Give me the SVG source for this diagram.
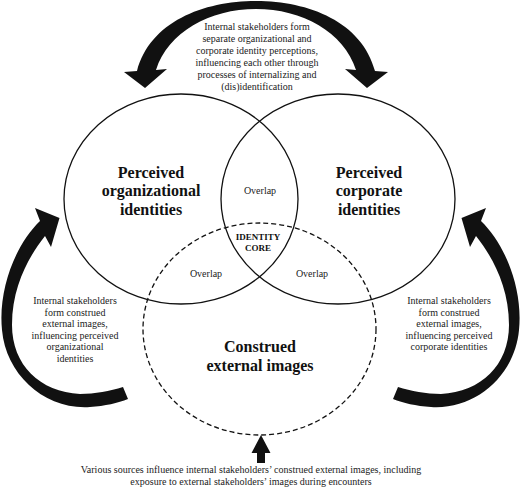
<svg xmlns="http://www.w3.org/2000/svg" width="520" height="489" viewBox="0 0 520 489">
<style>
.ring{fill:none;stroke:#111;stroke-width:1.3}
.dash{stroke-dasharray:5,3}
.big{font-family:"Liberation Serif","Times New Roman",serif;font-weight:bold;font-size:16px;fill:#111;text-anchor:middle}
.core{font-family:"Liberation Serif","Times New Roman",serif;font-weight:bold;font-size:9px;fill:#111;text-anchor:middle}
.small{font-family:"Liberation Serif","Times New Roman",serif;font-size:10px;fill:#222;text-anchor:middle}
.arrow{fill:#111;stroke:none}
</style>
<defs>
<path id="sideArrow" d="M128,399 C118,403 105,406 90,407 C45,410 6,375 2,330 C-2,290 15,245 40,221 L35,208 L59.5,218 L51,247 L45,236 C30,255 12,285 12,325 C12,365 40,392 80,394 C95,394 110,391 123,387 Z"/>
</defs>
<rect width="520" height="489" fill="#fff"/>

<g id="connectors">
  <path id="arrow-top" class="arrow" d="M137,71 C150,22 203,1 256,1 C309,1 362,22 375,71 L388,72 L367,88 L345,69 L356,70 C344,32 302,9 256,9 C210,9 168,32 156,70 L167,69 L145,88 L124,72 Z"/>
  <use id="arrow-left" class="arrow" href="#sideArrow"/>
  <use id="arrow-right" class="arrow" href="#sideArrow" transform="translate(521,0) scale(-1,1)"/>
  <path id="arrow-bottom" class="arrow" d="M261,435 L270.5,453 L265,453 L265,463 L257,463 L257,453 L251.5,453 Z"/>
</g>

<g id="node-organizational">
  <ellipse class="ring" cx="181" cy="199" rx="117" ry="105"/>
  <text class="big" x="151" y="177.5">Perceived</text>
  <text class="big" x="151" y="196">organizational</text>
  <text class="big" x="151" y="214.5">identities</text>
</g>

<g id="node-corporate">
  <ellipse class="ring" cx="338" cy="199" rx="117" ry="105"/>
  <text class="big" x="369" y="177.5">Perceived</text>
  <text class="big" x="369" y="196">corporate</text>
  <text class="big" x="369" y="214.5">identities</text>
</g>

<g id="node-construed">
  <ellipse class="ring dash" cx="259.5" cy="329" rx="116.5" ry="106"/>
  <text class="big" x="260" y="352">Construed</text>
  <text class="big" x="260" y="370.5">external images</text>
</g>

<g id="overlaps">
  <text class="small" x="260" y="194">Overlap</text>
  <text class="small" x="206" y="277">Overlap</text>
  <text class="small" x="312" y="277">Overlap</text>
  <text class="core" x="258" y="240">IDENTITY</text>
  <text class="core" x="258" y="250.5">CORE</text>
</g>

<g id="label-top">
  <text class="small" x="257" y="30">Internal stakeholders form</text>
  <text class="small" x="257" y="42">separate organizational and</text>
  <text class="small" x="257" y="54">corporate identity perceptions,</text>
  <text class="small" x="257" y="66">influencing each other through</text>
  <text class="small" x="257" y="78">processes of internalizing and</text>
  <text class="small" x="257" y="90">(dis)identification</text>
</g>

<g id="label-left">
  <text class="small" x="75" y="304">Internal stakeholders</text>
  <text class="small" x="75" y="315.5">form construed</text>
  <text class="small" x="75" y="327">external images,</text>
  <text class="small" x="75" y="338.5">influencing perceived</text>
  <text class="small" x="75" y="350">organizational</text>
  <text class="small" x="75" y="361.5">identities</text>
</g>

<g id="label-right">
  <text class="small" x="449" y="304">Internal stakeholders</text>
  <text class="small" x="449" y="315.5">form construed</text>
  <text class="small" x="449" y="327">external images,</text>
  <text class="small" x="449" y="338.5">influencing perceived</text>
  <text class="small" x="449" y="350">corporate identities</text>
</g>

<g id="label-bottom">
  <text class="small" x="251" y="472.5">Various sources influence internal stakeholders’ construed external images, including</text>
  <text class="small" x="251" y="484.5">exposure to external stakeholders’ images during encounters</text>
</g>
</svg>
